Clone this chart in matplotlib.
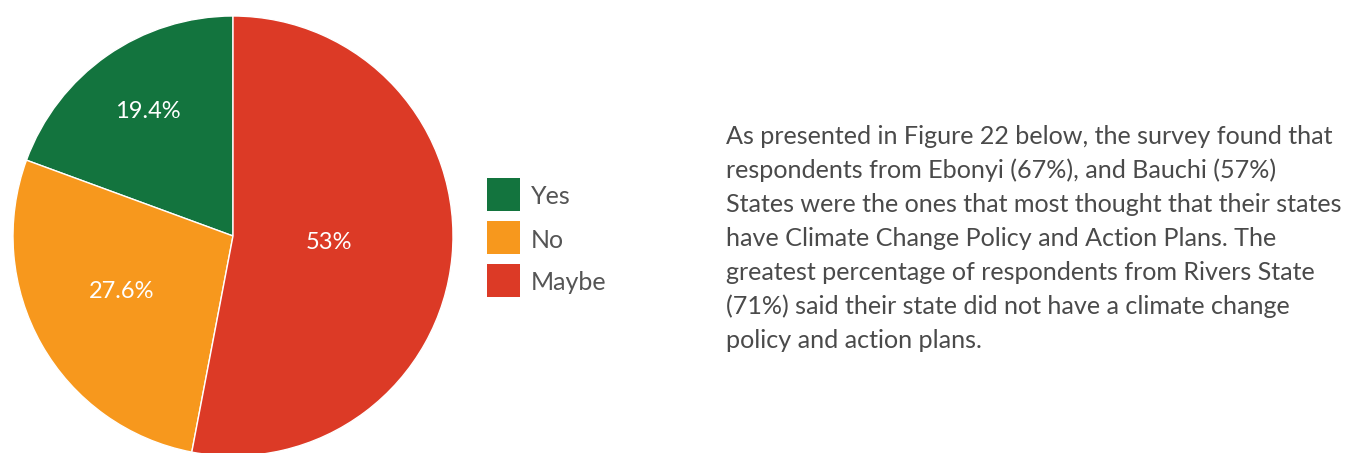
import matplotlib
matplotlib.use("Agg")
import matplotlib.pyplot as plt
import numpy as np

categories = ["Yes", "No", "Maybe"]
values = [19.4, 27.6, 53.0]
labels = ["19.4%", "27.6%", "53%"]
colors = ["#13743E", "#F7981D", "#DC3A26"]
body_lines = [
    "As presented in Figure 22 below, the survey found that",
    "respondents from Ebonyi (67%), and Bauchi (57%)",
    "States were the ones that most thought that their states",
    "have Climate Change Policy and Action Plans. The",
    "greatest percentage of respondents from Rivers State",
    "(71%) said their state did not have a climate change",
    "policy and action plans.",
]

W, H = 1357, 453
fig = plt.figure(figsize=(W / 100, H / 100), dpi=100)
fig.patch.set_facecolor("white")

cx, cy, r = 233, 236, 220
ax = fig.add_axes([(cx - r) / W, (H - cy - r) / H, 2 * r / W, 2 * r / H])
wedges, _ = ax.pie(values, colors=colors, startangle=90, counterclock=True,
                   wedgeprops=dict(edgecolor="white", linewidth=1))
ax.set_xlim(-1, 1)
ax.set_ylim(-1, 1)
ax.set_aspect("equal")
ax.axis("off")

# label distances (Google-charts style placement)
label_dist = [0.68, 0.57, 0.44]
label_shift = [0.0, -2.0, 0.0]
for w, lab, d, s in zip(wedges, labels, label_dist, label_shift):
    ang = np.deg2rad((w.theta1 + w.theta2) / 2 + s)
    ax.text(d * np.cos(ang), d * np.sin(ang) + 0.01, lab, color="white",
            fontsize=17, family="Lato", ha="center", va="center")

# legend
for i, (cat, col) in enumerate(zip(categories, colors)):
    top = 178 + i * 43
    fig.patches.append(plt.Rectangle((487 / W, 1 - (top + 33) / H), 33 / W, 33 / H,
                                     transform=fig.transFigure, facecolor=col,
                                     edgecolor="none"))
    fig.text(531 / W, 1 - (top + 19) / H, cat, fontsize=18, family="Lato",
             color="#555555", ha="left", va="center")

# body text
for i, line in enumerate(body_lines):
    fig.text(726 / W, 1 - (144 + i * 34) / H, line, fontsize=18.1, family="Lato",
             fontweight="normal", color="#4a4a4a", ha="left", va="baseline")

fig.savefig("out.png", dpi=100)
